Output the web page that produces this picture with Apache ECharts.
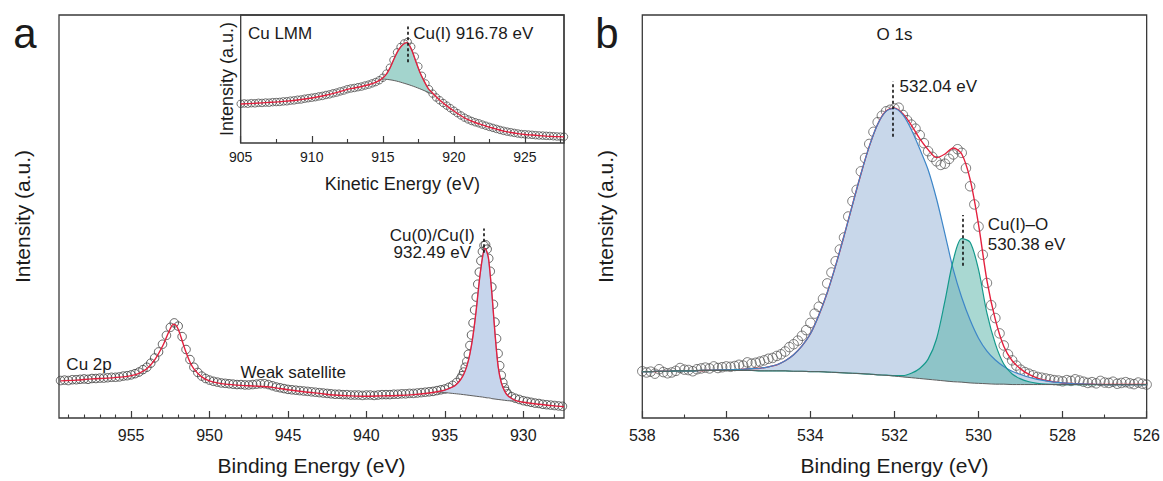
<!DOCTYPE html>
<html>
<head>
<meta charset="utf-8">
<script src="https://cdn.jsdelivr.net/npm/echarts@6/dist/echarts.min.js"></script>
<style>
  html, body { margin: 0; padding: 0; background: #fff; }
  #chart { width: 1163px; height: 481px; }
</style>
</head>
<body>
<div id="chart"></div>
<script>
// ---------- (a) Cu 2p spectrum ----------
const cu2pEnergy = [
  959.5, 959.25, 959, 958.75, 958.5, 958.25, 958, 957.75, 957.5, 957.25, 957, 956.75, 956.5, 956.25, 956, 955.75, 955.5, 955.25, 955,
  954.75, 954.5, 954.25, 954, 953.75, 953.5, 953.25, 953, 952.75, 952.5, 952.25, 952, 951.75, 951.5, 951.25, 951, 950.75, 950.5, 950.25, 950,
  949.75, 949.5, 949.25, 949, 948.75, 948.5, 948.25, 948, 947.75, 947.5, 947.25, 947, 946.75, 946.5, 946.25, 946, 945.75, 945.5, 945.25, 945,
  944.75, 944.5, 944.25, 944, 943.75, 943.5, 943.25, 943, 942.75, 942.5, 942.25, 942, 941.75, 941.5, 941.25, 941, 940.75, 940.5, 940.25, 940,
  939.75, 939.5, 939.25, 939, 938.75, 938.5, 938.25, 938, 937.75, 937.5, 937.25, 937, 936.75, 936.5, 936.25, 936, 935.75, 935.5, 935.25, 935,
  934.75, 934.5, 934.25, 934,
  933.9, 933.8, 933.7, 933.6, 933.5, 933.4, 933.3, 933.2, 933.1, 933, 932.9, 932.8, 932.7, 932.6, 932.5,
  932.4, 932.3, 932.2, 932.1, 932, 931.9, 931.8, 931.7, 931.6, 931.5, 931.4, 931.3, 931.2, 931.1, 931,
  930.75, 930.5, 930.25, 930, 929.75, 929.5, 929.25, 929, 928.75, 928.5, 928.25, 928, 927.75, 927.5
];
const cu2pCounts = [
  9.3, 9.4, 9.3, 9.5, 9.5, 9.6, 9.7, 9.6, 9.8, 9.8, 9.9, 9.9, 10.0, 10.1, 10.1, 10.2, 10.4, 10.5, 10.7,
  11.0, 11.4, 12.0, 12.6, 13.6, 14.9, 16.4, 18.3, 20.5, 22.5, 23.6, 22.8, 20.2, 17.0, 14.5, 12.6, 11.3, 10.4, 9.8, 9.4,
  9.1, 8.9, 8.7, 8.6, 8.5, 8.4, 8.3, 8.3, 8.2, 8.2, 8.3, 8.4, 8.5, 8.5, 8.3, 8.0, 7.7, 7.5, 7.3, 7.1,
  7.0, 6.9, 6.8, 6.7, 6.6, 6.5, 6.4, 6.3, 6.2, 6.1, 6.0, 5.9, 5.9, 5.8, 5.8, 5.7, 5.7, 5.7, 5.6, 5.7,
  5.7, 5.6, 5.7, 5.8, 5.8, 5.8, 5.9, 5.9, 6.0, 6.0, 6.1, 6.1, 6.2, 6.3, 6.4, 6.5, 6.6, 6.8, 7.0, 7.2,
  7.6, 8.1, 8.8, 9.8,
  10.5, 11.4, 12.6, 14.0, 15.8, 18.0, 20.6, 23.6, 26.8, 30.0, 33.2, 36.2, 39.0, 41.3, 42.8,
  43.0, 41.9, 39.6, 36.4, 32.5, 28.2, 23.8, 19.7, 16.0, 13.0, 10.6, 8.8, 7.5, 6.6, 6.0,
  5.3, 4.9, 4.6, 4.3, 4.1, 3.9, 3.7, 3.6, 3.4, 3.3, 3.2, 3.1, 3.0, 2.9
];
const cu2pFitEnergy = [
  959.5, 958.5, 957.5, 956.5, 955.5, 955, 954.5, 954, 953.5, 953, 952.75, 952.5, 952.3, 952.1, 951.9,
  951.7, 951.5, 951.25, 951, 950.5, 950, 949.5, 949, 948, 947, 946, 945, 944, 943, 942,
  941, 940, 939, 938, 937, 936, 935.5, 935, 934.5, 934.25, 934, 933.8, 933.6, 933.4, 933.2,
  933, 932.8, 932.6, 932.45, 932.3, 932.2, 932, 931.8, 931.6, 931.4, 931.2, 931, 930.5, 930, 929, 928, 927.4
];
const cu2pFit = [
  9.2, 9.4, 9.7, 9.9, 10.2, 10.5, 11.1, 12.2, 14.4, 17.8, 20.0, 22.2, 23.3, 22.8, 21.0,
  18.6, 16.3, 13.9, 12.2, 10.2, 9.2, 8.7, 8.4, 8.1, 7.9, 7.6, 7.0, 6.5, 6.1, 5.7,
  5.5, 5.4, 5.5, 5.6, 5.8, 6.2, 6.5, 6.9, 7.7, 8.4, 9.5, 10.8, 12.8, 15.9, 20.5,
  26.7, 34.0, 39.8, 42.1, 41.0, 39.2, 31.0, 21.0, 12.8, 8.8, 6.8, 5.6, 4.4, 3.9, 3.4, 3.0, 2.8
];
// Cu(0)/Cu(I) 2p3/2 component: Shirley background and peak height above it
const cuPeakEnergy = [935.5, 935, 934.5, 934.25, 934, 933.8, 933.6, 933.4, 933.2, 933, 932.8, 932.6, 932.45, 932.3, 932.2, 932, 931.8, 931.6, 931.4, 931.2, 931, 930.75, 930.5];
const cuPeakBackground = [6.5, 6.3, 6.1, 6.0, 5.9, 5.8, 5.7, 5.6, 5.5, 5.4, 5.3, 5.2, 5.1, 5.0, 5.0, 4.8, 4.7, 4.6, 4.5, 4.4, 4.3, 4.25, 4.2];
const cuPeakComponent = [0, 0.6, 1.6, 2.4, 3.6, 5.0, 7.1, 10.3, 15.0, 21.3, 28.7, 34.6, 37.0, 36.0, 34.2, 26.2, 16.3, 8.2, 4.3, 2.4, 1.3, 0.65, 0.2];
const cu2pMajorTicks = [930, 935, 940, 945, 950, 955];
const cu2pMinorTicks = [928, 929, 931, 932, 933, 934, 936, 937, 938, 939, 941, 942, 943, 944, 946, 947, 948, 949, 951, 952, 953, 954, 956, 957, 958, 959];

// ---------- inset: Cu LMM Auger ----------
const lmmEnergy = [
  905, 905.25, 905.5, 905.75, 906, 906.25, 906.5, 906.75, 907, 907.25, 907.5, 907.75,
  908, 908.25, 908.5, 908.75, 909, 909.25, 909.5, 909.75, 910, 910.25, 910.5, 910.75,
  911, 911.25, 911.5, 911.75, 912, 912.25, 912.5, 912.75, 913, 913.25, 913.5, 913.75,
  914, 914.25, 914.5, 914.75, 915, 915.25, 915.5, 915.75, 916, 916.25, 916.5, 916.75,
  917, 917.25, 917.5, 917.75, 918, 918.25, 918.5, 918.75, 919, 919.25, 919.5, 919.75,
  920, 920.25, 920.5, 920.75, 921, 921.25, 921.5, 921.75, 922, 922.25, 922.5, 922.75,
  923, 923.25, 923.5, 923.75, 924, 924.25, 924.5, 924.75, 925, 925.25, 925.5, 925.75,
  926, 926.25, 926.5, 926.75, 927, 927.25, 927.5, 927.75
];
const lmmCounts = [
  30.6, 30.9, 30.7, 31.1, 31.0, 31.4, 31.3, 31.6, 31.5, 31.9, 32.0, 32.1,
  32.5, 32.6, 33.1, 33.3, 33.8, 34.0, 34.6, 35.0, 35.4, 35.8, 36.4, 36.8,
  37.5, 38.0, 38.8, 39.4, 40.3, 41.0, 42.0, 42.6, 43.0, 43.6, 44.1, 44.9,
  45.6, 46.6, 47.6, 49.0, 51.0, 54.2, 58.8, 64.8, 70.8, 75.0, 77.8, 79.0,
  75.2, 67.5, 59.8, 52.5, 46.5, 42.0, 38.6, 35.6, 33.4, 31.2, 29.2, 27.2,
  25.2, 23.3, 21.5, 19.8, 18.4, 17.2, 16.2, 15.4, 14.4, 13.5, 12.6, 11.8,
  11.0, 10.2, 9.5, 8.9, 8.4, 7.9, 7.4, 7.0, 6.8, 6.6, 6.4, 6.1,
  5.9, 5.8, 5.6, 5.5, 5.3, 5.1, 5.0, 4.9
];
const lmmFitEnergy = [905, 906, 907, 908, 909, 910, 911, 912, 912.5, 913, 913.5, 914, 914.5, 914.9, 915.2, 915.5, 915.8, 916.1, 916.4, 916.7, 917, 917.3, 917.6, 917.9, 918.2, 918.5, 919, 919.5, 920, 920.5, 921, 921.5, 922, 922.5, 923, 923.5, 924, 924.5, 925, 925.5, 926, 926.5, 927, 927.75];
const lmmFit = [30.5, 31.0, 31.7, 32.5, 33.6, 35.2, 37.3, 40.2, 41.9, 43.0, 44.1, 45.5, 47.4, 50.0, 53.0, 58.5, 66.0, 72.5, 76.8, 78.4, 73.5, 64.5, 55.5, 48.5, 42.5, 39.0, 33.6, 29.0, 25.0, 21.3, 18.2, 16.0, 14.2, 12.4, 10.8, 9.3, 8.2, 7.3, 6.6, 6.2, 5.8, 5.4, 5.1, 4.8];
const lmmPeakEnergy = [914.9, 915.2, 915.5, 915.8, 916.1, 916.4, 916.7, 917, 917.3, 917.6, 917.9, 918.2, 918.5];
const lmmPeakBackground = [50.0, 49.8, 49.4, 48.8, 48.0, 47.0, 46.0, 44.9, 43.7, 42.4, 41.0, 39.6, 38.3];
const lmmPeakComponent = [0, 3.2, 9.1, 17.2, 24.5, 29.8, 32.4, 28.6, 20.8, 13.1, 7.5, 2.9, 0.7];
const lmmMajorTicks = [905, 910, 915, 920, 925];
const lmmMinorTicks = [907.5, 912.5, 917.5, 922.5, 927.5];

// ---------- (b) O 1s spectrum ----------
const o1sEnergy = [
  538, 537.9, 537.8, 537.7, 537.6, 537.5, 537.4, 537.3, 537.2, 537.1,
  537, 536.9, 536.8, 536.7, 536.6, 536.5, 536.4, 536.3, 536.2, 536.1,
  536, 535.9, 535.8, 535.7, 535.6, 535.5, 535.4, 535.3, 535.2, 535.1,
  535, 534.9, 534.8, 534.7, 534.6, 534.5, 534.4, 534.3, 534.2, 534.1,
  534, 533.9, 533.8, 533.7, 533.6, 533.5, 533.4, 533.3, 533.2, 533.1,
  533, 532.9, 532.8, 532.7, 532.6, 532.5, 532.4, 532.3, 532.2, 532.1,
  532, 531.9, 531.8, 531.7, 531.6, 531.5, 531.4, 531.3, 531.2, 531.1,
  531, 530.9, 530.8, 530.7, 530.6, 530.5, 530.4, 530.3, 530.2, 530.1,
  530, 529.9, 529.8, 529.7, 529.6, 529.5, 529.4, 529.3, 529.2, 529.1,
  529, 528.9, 528.8, 528.7, 528.6, 528.5, 528.4, 528.3, 528.2, 528.1,
  528, 527.9, 527.8, 527.7, 527.6, 527.5, 527.4, 527.3, 527.2, 527.1,
  527, 526.9, 526.8, 526.7, 526.6, 526.5, 526.4, 526.3, 526.2, 526.1,
  526
];
const o1sCounts = [
  11.6, 11.3, 11.5, 11.0, 12.1, 11.4, 11.1, 11.3, 11.7, 12.4,
  12.0, 11.9, 11.6, 12.1, 12.3, 12.5, 12.3, 12.8, 12.4, 12.6,
  12.8, 12.7, 12.9, 13.2, 13.0, 13.8, 13.5, 13.7, 14.0, 14.3,
  14.7, 14.9, 15.4, 15.8, 16.5, 17.6, 18.3, 19.2, 20.4, 21.8,
  23.6, 25.9, 27.6, 29.6, 33.4, 36.1, 38.9, 41.8, 44.8, 50.0,
  53.8, 56.6, 61.2, 64.5, 68.0, 71.0, 73.4, 75.0, 76.1, 76.5,
  76.8, 77.0, 75.2, 73.9, 72.8, 71.8, 70.2, 68.2, 66.2, 64.8,
  63.7, 62.8, 63.1, 64.3, 65.4, 66.7, 65.8, 62.0, 57.5, 53.0,
  47.5, 40.5, 33.5, 28.0, 24.8, 21.0, 18.0, 15.8, 14.3, 13.0,
  12.0, 11.4, 11.0, 10.6, 10.2, 10.0, 9.8, 9.6, 9.4, 9.3,
  9.1, 9.4, 9.2, 9.6, 9.3, 9.0, 8.7, 8.9, 8.6, 9.2,
  8.8, 8.7, 9.0, 8.5, 8.7, 8.9, 8.6, 8.4, 8.8, 8.5,
  8.3
];
const o1sFitEnergy = [
  538, 537.8, 537.6, 537.4, 537.2, 537, 536.8, 536.6, 536.4, 536.2,
  536, 535.8, 535.6, 535.4, 535.2, 535, 534.8, 534.6, 534.4, 534.2,
  534, 533.8, 533.6, 533.4, 533.2, 533, 532.8, 532.6, 532.4, 532.2,
  532, 531.8, 531.6, 531.4, 531.2, 531, 530.8, 530.6, 530.4, 530.2,
  530, 529.8, 529.6, 529.4, 529.2, 529, 528.8, 528.6, 528.4, 528.2,
  528, 527.8, 527.6, 527.4, 527.2, 527, 526.8, 526.6, 526.4, 526.2,
  526
];
const o1sBackground = [
  11.5, 11.5, 11.6, 11.6, 11.7, 11.7, 11.7, 11.8, 11.8, 11.8,
  11.8, 11.8, 11.8, 11.8, 11.7, 11.7, 11.7, 11.7, 11.6, 11.6,
  11.5, 11.5, 11.4, 11.3, 11.2, 11.1, 11.0, 10.9, 10.7, 10.6,
  10.4, 10.2, 10.0, 9.8, 9.6, 9.4, 9.2, 9.0, 8.9, 8.7,
  8.6, 8.5, 8.4, 8.4, 8.3, 8.3, 8.3, 8.3, 8.3, 8.3,
  8.3, 8.3, 8.3, 8.3, 8.3, 8.3, 8.3, 8.3, 8.3, 8.3,
  8.3
];
// 532.04 eV component (height above background)
const o1sPeakHigh = [
  0, 0, 0, 0, 0, 0, 0, 0, 0.05, 0.1,
  0.15, 0.2, 0.3, 0.45, 0.65, 1.0, 1.5, 2.5, 4.1, 6.3,
  9.4, 14.0, 19.7, 26.5, 34.0, 41.8, 49.5, 56.5, 62.2, 65.5,
  66.4, 65.0, 61.6, 57.0, 52.0, 45.0, 36.5, 27.8, 21.0, 15.6,
  11.2, 8.1, 6.0, 4.4, 3.3, 2.5, 1.8, 1.3, 0.9, 0.6,
  0.4, 0.25, 0.15, 0.1, 0.05, 0, 0, 0, 0, 0,
  0
];
// Cu(I)-O component at 530.38 eV (height above background)
const o1sPeakCuO = [
  0, 0, 0, 0, 0, 0, 0, 0, 0, 0,
  0, 0, 0, 0, 0, 0, 0, 0, 0, 0,
  0, 0, 0, 0, 0, 0, 0, 0, 0, 0.05,
  0.1, 0.3, 1.1, 2.5, 5.0, 10.2, 19.8, 30.2, 35.6, 34.9,
  28.2, 17.5, 10.0, 5.0, 2.6, 1.4, 0.7, 0.3, 0.1, 0.05,
  0, 0, 0, 0, 0, 0, 0, 0, 0, 0,
  0
];
const o1sFit = [
  11.5, 11.5, 11.6, 11.6, 11.7, 11.7, 11.7, 11.8, 11.85, 11.9,
  12.0, 12.0, 12.1, 12.25, 12.35, 12.7, 13.2, 14.2, 15.7, 17.9,
  20.9, 25.5, 31.1, 37.8, 45.2, 52.9, 60.5, 67.4, 72.9, 76.15,
  76.9, 75.5, 72.7, 69.3, 66.6, 64.6, 65.5, 67.0, 65.5, 59.2,
  48.0, 34.1, 24.4, 17.8, 14.2, 12.2, 10.8, 9.9, 9.3, 8.95,
  8.7, 8.55, 8.45, 8.4, 8.35, 8.3, 8.3, 8.3, 8.3, 8.3,
  8.3
];
const o1sMajorTicks = [526, 528, 530, 532, 534, 536, 538];
const o1sMinorTicks = [527, 529, 531, 533, 535, 537];

// ---------- styling ----------
const FONT = '"Liberation Sans", Arial, Helvetica, sans-serif';
const INK = '#1b1b1b';
const FRAME = '#3a3a3a';
const RED = '#e3203e';

const pairs = (xs, ys) => xs.map((x, i) => [x, ys[i]]);
// Stacked series keep intensity in the first column so the stack adds along y.
const stackPairs = (xs, ys) => xs.map((x, i) => [ys[i], x]);

function energyAxis(gridIndex, min, max, inverse, ticks, opts) {
  return {
    type: 'value', gridIndex, min, max, inverse, position: 'bottom',
    axisLine: { show: false },
    splitLine: { show: false },
    axisTick: { show: true, inside: true, length: opts.tickLen, customValues: ticks,
      lineStyle: { color: FRAME, width: 1.2 } },
    axisLabel: { show: true, customValues: ticks, margin: opts.margin,
      fontSize: opts.labelSize, fontFamily: FONT, color: INK },
    name: opts.name, nameLocation: 'middle', nameGap: opts.nameGap,
    nameTextStyle: { fontSize: opts.nameSize, fontFamily: FONT, color: INK }
  };
}
function minorAxis(gridIndex, min, max, inverse, ticks, len) {
  return {
    type: 'value', gridIndex, min, max, inverse, position: 'bottom',
    axisLine: { show: false }, splitLine: { show: false }, axisLabel: { show: false },
    axisTick: { show: true, inside: true, length: len, customValues: ticks,
      lineStyle: { color: FRAME, width: 1.1 } }
  };
}
function intensityAxis(gridIndex, gap, size) {
  return {
    type: 'value', gridIndex, min: 0, max: 100,
    axisLine: { show: false }, axisTick: { show: false }, axisLabel: { show: false },
    splitLine: { show: false },
    name: 'Intensity (a.u.)', nameLocation: 'middle', nameGap: gap,
    nameTextStyle: { fontSize: size, fontFamily: FONT, color: INK }
  };
}
function dashMark(x, y0, y1) {
  return {
    silent: true, symbol: ['none', 'none'], label: { show: false },
    lineStyle: { color: '#111', width: 1.6, type: [3, 2.5] },
    emphasis: { disabled: true },
    data: [[{ coord: [x, y0] }, { coord: [x, y1] }]]
  };
}
const base = { animation: false, silent: true, emphasis: { disabled: true } };
const circles = (xi, yi, data, size, stroke, width) => Object.assign({}, base, {
  type: 'scatter', xAxisIndex: xi, yAxisIndex: yi, data, symbol: 'circle', symbolSize: size,
  itemStyle: { color: 'rgba(255,255,255,0)', borderColor: stroke, borderWidth: width }
});
const curve = (xi, yi, data, color, width, extra) => Object.assign({}, base, {
  type: 'line', xAxisIndex: xi, yAxisIndex: yi, data, showSymbol: false, symbol: 'none',
  smooth: 0.3, lineStyle: { color, width }
}, extra || {});
// a component drawn as a filled band on top of a background curve
const stacked = (xi, yi, xs, ys, stackName, color, width, fill) => curve(xi, yi, stackPairs(xs, ys), color, width, Object.assign({
  stack: stackName, encode: { x: 1, y: 0 }
}, fill ? { areaStyle: { color: fill, opacity: 1 } } : { lineStyle: { color, width, opacity: width ? 1 : 0 } }));

const option = {
  animation: false,
  backgroundColor: '#ffffff',
  textStyle: { fontFamily: FONT },
  grid: [
    { left: 59, top: 15, width: 505, height: 407, show: true, borderColor: FRAME, borderWidth: 1.3, backgroundColor: 'transparent' },
    { left: 240.7, top: 15, width: 323.3, height: 128, show: true, borderColor: FRAME, borderWidth: 1.3, backgroundColor: 'transparent' },
    { left: 642.3, top: 15, width: 504.7, height: 407, show: true, borderColor: FRAME, borderWidth: 1.3, backgroundColor: 'transparent' }
  ],
  xAxis: [
    energyAxis(0, 927.4, 959.6, true, cu2pMajorTicks, { tickLen: 7, margin: 9, labelSize: 16, name: 'Binding Energy (eV)', nameGap: 37, nameSize: 21 }),
    minorAxis(0, 927.4, 959.6, true, cu2pMinorTicks, 3.5),
    energyAxis(1, 905, 927.75, false, lmmMajorTicks, { tickLen: 7, margin: 7, labelSize: 14, name: 'Kinetic Energy (eV)', nameGap: 32, nameSize: 18 }),
    minorAxis(1, 905, 927.75, false, lmmMinorTicks, 4),
    energyAxis(2, 526, 538, true, o1sMajorTicks, { tickLen: 7, margin: 9, labelSize: 16, name: 'Binding Energy (eV)', nameGap: 37, nameSize: 21 }),
    minorAxis(2, 526, 538, true, o1sMinorTicks, 3.5)
  ],
  yAxis: [
    intensityAxis(0, 26, 21),
    intensityAxis(1, 5, 18),
    intensityAxis(2, 26, 21)
  ],
  series: [
    // (a) Cu 2p
    stacked(0, 0, cuPeakEnergy, cuPeakBackground, 'cu2p', '#5e5e5e', 1, null),
    stacked(0, 0, cuPeakEnergy, cuPeakComponent, 'cu2p', '#5a8fcf', 0.8, '#c6d5ec'),
    circles(0, 0, pairs(cu2pEnergy, cu2pCounts), 8.5, '#3a3a3a', 1),
    curve(0, 0, pairs(cu2pFitEnergy, cu2pFit), RED, 1.4, { markLine: dashMark(932.49, 41, 47) }),

    // inset Cu LMM
    stacked(2, 1, lmmPeakEnergy, lmmPeakBackground, 'lmm', '#5e5e5e', 1, null),
    stacked(2, 1, lmmPeakEnergy, lmmPeakComponent, 'lmm', '#2f9c8e', 0.8, '#a3d4cd'),
    circles(2, 1, pairs(lmmEnergy, lmmCounts), 7.5, '#3f3f3f', 0.9),
    curve(2, 1, pairs(lmmFitEnergy, lmmFit), RED, 1.4, { markLine: dashMark(916.78, 63, 91) }),

    // (b) O 1s
    curve(4, 2, pairs(o1sFitEnergy, o1sFit), RED, 1.4),
    stacked(4, 2, o1sFitEnergy, o1sBackground, 'high', '#000', 0, null),
    stacked(4, 2, o1sFitEnergy, o1sPeakHigh, 'high', '#3d86c8', 1.2, '#c8d7ea'),
    stacked(4, 2, o1sFitEnergy, o1sBackground, 'cuo', '#000', 0, null),
    stacked(4, 2, o1sFitEnergy, o1sPeakCuO, 'cuo', '#14998b', 1.2, 'rgba(83,177,165,0.5)'),
    curve(4, 2, pairs(o1sFitEnergy, o1sBackground), '#5e5e5e', 1),
    circles(4, 2, pairs(o1sEnergy, o1sCounts), 9.5, '#4a4a4a', 0.9),
    curve(4, 2, [], RED, 1, { markLine: dashMark(532.04, 69.8, 83.5) }),
    curve(4, 2, [], RED, 1, { markLine: dashMark(530.38, 37.8, 50.4) })
  ]
};

const chart = echarts.init(document.getElementById('chart'), null, { renderer: 'svg', width: 1163, height: 481 });
chart.setOption(option);

// Text notes anchored in data space: [xAxisIndex, yAxisIndex, energy, intensity]
const notes = [
  { axes: [0, 0], at: [935.8, 45.2], text: 'Cu(0)/Cu(I)', align: 'center', size: 17 },
  { axes: [0, 0], at: [935.8, 41.0], text: '932.49 eV', align: 'center', size: 17 },
  { axes: [0, 0], at: [959.13, 13.3], text: 'Cu 2p', align: 'left', size: 17 },
  { axes: [0, 0], at: [948.03, 11.3], text: 'Weak satellite', align: 'left', size: 17 },
  { axes: [2, 1], at: [905.51, 85.2], text: 'Cu LMM', align: 'left', size: 17 },
  { axes: [2, 1], at: [917.14, 85.2], text: 'Cu(I) 916.78 eV', align: 'left', size: 17 },
  { axes: [4, 2], at: [532.0, 95.1], text: 'O 1s', align: 'center', size: 17 },
  { axes: [4, 2], at: [531.88, 82.3], text: '532.04 eV', align: 'left', size: 17 },
  { axes: [4, 2], at: [529.78, 48.0], text: 'Cu(I)\u2013O', align: 'left', size: 17 },
  { axes: [4, 2], at: [529.78, 43.1], text: '530.38 eV', align: 'left', size: 17 }
];
const graphics = notes.map(n => {
  const p = chart.convertToPixel({ xAxisIndex: n.axes[0], yAxisIndex: n.axes[1] }, n.at);
  return { type: 'text', x: p[0], y: p[1], silent: true, z: 100,
    style: { text: n.text, fontSize: n.size, fontFamily: FONT, fill: INK, align: n.align, verticalAlign: 'middle' } };
});
// panel letters
graphics.push({ type: 'text', x: 25, y: 33, silent: true, z: 100,
  style: { text: 'a', fontSize: 42, fontFamily: FONT, fill: INK, align: 'center', verticalAlign: 'middle' } });
graphics.push({ type: 'text', x: 607, y: 33, silent: true, z: 100,
  style: { text: 'b', fontSize: 42, fontFamily: FONT, fill: INK, align: 'center', verticalAlign: 'middle' } });
chart.setOption({ graphic: graphics });
</script>
</body>
</html>
